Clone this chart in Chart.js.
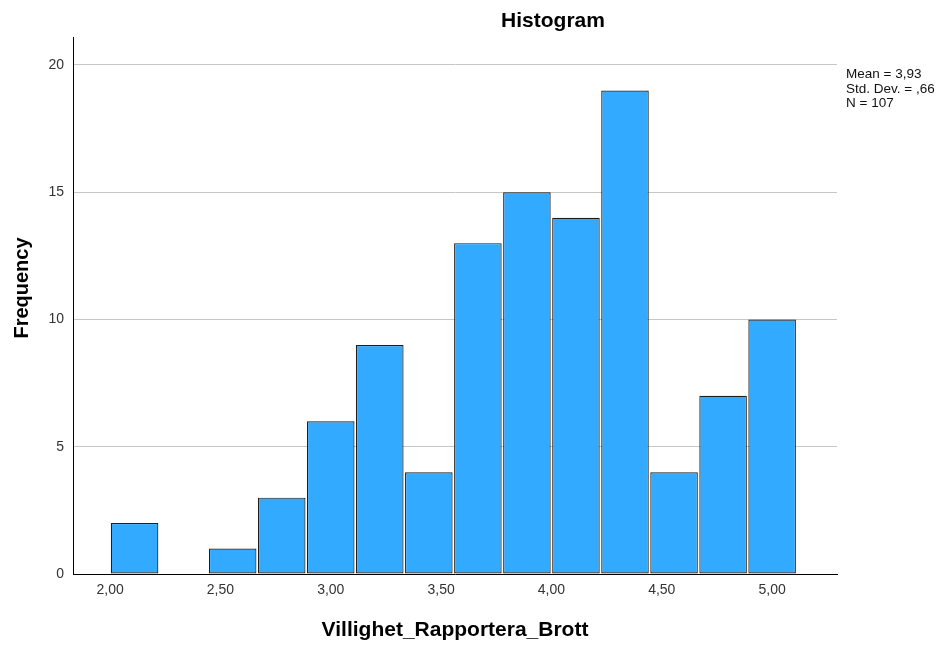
<!DOCTYPE html>
<html>
<head>
<meta charset="utf-8">
<script src="https://cdn.jsdelivr.net/npm/chart.js@4"></script>
<style>
  html, body { margin: 0; padding: 0; background: #ffffff; }
  #wrap { width: 946px; height: 646px; }
</style>
</head>
<body>
<div id="wrap"><canvas id="histChart" width="946" height="646"></canvas></div>
<script>
// bin centres (width 2/9) and counts
const binCenters = [2.1111, 2.3333, 2.5556, 2.7778, 3.0000, 3.2222, 3.4444,
                    3.6667, 3.8889, 4.1111, 4.3333, 4.5556, 4.7778, 5.0000];
const counts = [2, 0, 1, 3, 6, 9, 4, 13, 15, 14, 19, 4, 7, 10];
const xTicks = [2.0, 2.5, 3.0, 3.5, 4.0, 4.5, 5.0];
const yTicks = [0, 5, 10, 15, 20];
const statLines = ['Mean = 3,93', 'Std. Dev. = ,66', 'N = 107'];

const colorBar = '#31aaff';
const colorBarEdge = '#1e1e1e';
const colorGrid = '#c6c6c6';
const colorText = '#333333';
const FONT = "'Liberation Sans', Arial, sans-serif";

const fmt = (v) => v.toFixed(2).replace('.', ',');

const textPlugin = {
    id: 'spssText',
    afterDraw(chart) {
        const ctx = chart.ctx;
        const area = chart.chartArea;
        ctx.save();
        ctx.fillStyle = '#000000';
        ctx.textBaseline = 'alphabetic';

        // title
        ctx.font = 'bold 21px ' + FONT;
        ctx.textAlign = 'center';
        ctx.fillText('Histogram', 553, 27);

        // x axis title
        ctx.font = 'bold 21px ' + FONT;
        ctx.fillText('Villighet_Rapportera_Brott', (area.left + area.right) / 2, 636);

        // y axis title
        ctx.font = 'bold 20px ' + FONT;
        ctx.save();
        ctx.translate(28, 288);
        ctx.rotate(-Math.PI / 2);
        ctx.fillText('Frequency', 0, 0);
        ctx.restore();

        // stats box
        ctx.font = '13.5px ' + FONT;
        ctx.textAlign = 'left';
        ctx.fillStyle = '#111111';
        statLines.forEach((s, i) => {
            ctx.fillText(s, 846, 78 + i * 14.5);
        });
        ctx.restore();
    }
};

const buildChart = (ctx) => {
    return new Chart(ctx, {
        type: 'bar',
        data: {
            datasets: [{
                label: 'Frequency',
                data: binCenters.map((c, i) => ({x: c, y: counts[i]})),
                backgroundColor: colorBar,
                borderColor: colorBarEdge,
                borderWidth: 1.2,
                borderSkipped: false,
                categoryPercentage: 1.0,
                barPercentage: 0.97
            }]
        },
        options: {
            responsive: false,
            animation: { duration: 0 },
            layout: {
                padding: { left: 0, right: 109, top: 37, bottom: 0 }
            },
            scales: {
                x: {
                    type: 'linear',
                    offset: false,
                    min: 1.832,
                    max: 5.294,
                    afterBuildTicks: (scale) => {
                        scale.ticks = xTicks.map(v => ({value: v}));
                    },
                    afterFit: (scale) => { scale.height = 72; },
                    grid: { display: false, drawTicks: false, offset: false },
                    border: { display: true, color: '#000000', width: 1 },
                    ticks: {
                        padding: 8,
                        color: colorText,
                        font: { size: 14, family: FONT },
                        maxRotation: 0,
                        callback: (v) => fmt(v)
                    }
                },
                y: {
                    min: 0,
                    max: 21.1,
                    afterBuildTicks: (scale) => {
                        scale.ticks = yTicks.map(v => ({value: v}));
                    },
                    afterFit: (scale) => { scale.width = 73; },
                    grid: {
                        drawTicks: false,
                        color: (c) => c.tick && c.tick.value === 0 ? 'rgba(0,0,0,0)' : colorGrid,
                        lineWidth: 1
                    },
                    border: { display: true, color: '#000000', width: 1 },
                    ticks: {
                        padding: 9,
                        color: colorText,
                        font: { size: 14, family: FONT }
                    }
                }
            },
            plugins: {
                legend: { display: false },
                tooltip: { enabled: false },
                title: { display: false }
            }
        },
        plugins: [textPlugin]
    });
}

let histChart = buildChart(document.getElementById('histChart').getContext('2d'));
</script>
</body>
</html>
